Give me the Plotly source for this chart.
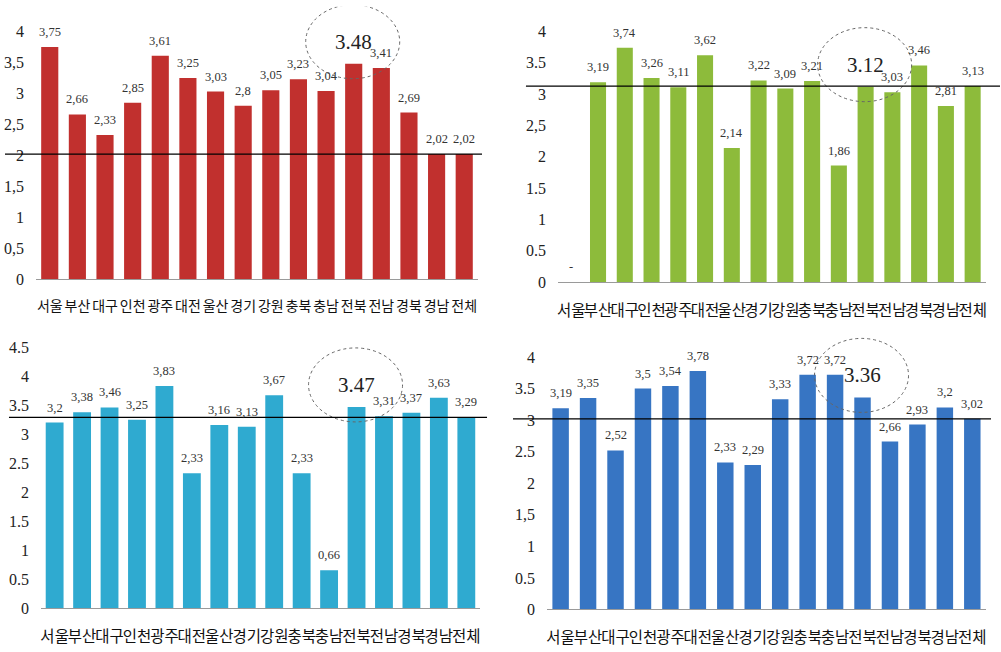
import plotly.graph_objects as go

# ---------------- data ----------------
regions = ["서울", "부산", "대구", "인천", "광주", "대전", "울산", "경기",
           "강원", "충북", "충남", "전북", "전남", "경북", "경남", "전체"]

red_values = [3.75, 2.66, 2.33, 2.85, 3.61, 3.25, 3.03, 2.8,
              3.05, 3.23, 3.04, 3.48, 3.41, 2.69, 2.02, 2.02]
green_values = [None, 3.19, 3.74, 3.26, 3.11, 3.62, 2.14, 3.22,
                3.09, 3.21, 1.86, 3.12, 3.03, 3.46, 2.81, 3.13]
cyan_values = [3.2, 3.38, 3.46, 3.25, 3.83, 2.33, 3.16, 3.13,
               3.67, 2.33, 0.66, 3.47, 3.31, 3.37, 3.63, 3.29]
blue_values = [3.19, 3.35, 2.52, 3.5, 3.54, 3.78, 2.33, 2.29,
               3.33, 3.72, 3.72, 3.36, 2.66, 2.93, 3.2, 3.02]

ytick_vals_4 = [0, 0.5, 1, 1.5, 2, 2.5, 3, 3.5, 4]
ytick_vals_45 = [0, 0.5, 1, 1.5, 2, 2.5, 3, 3.5, 4, 4.5]
red_yticks = ["0", "0,5", "1", "1,5", "2", "2,5", "3", "3,5", "4"]
green_yticks = ["0", "0.5", "1", "1.5", "2", "2,5", "3", "3.5", "4"]
cyan_yticks = ["0", "0.5", "1", "1.5", "2", "2.5", "3", "3.5", "4", "4.5"]
blue_yticks = ["0", "0.5", "1", "1,5", "2", "2.5", "3", "3.5", "4"]

highlight_region = "전북"
total_region = "전체"

# ---------------- layout constants ----------------
W, H = 1001, 652
panels = [
    dict(values=red_values, color="#c1302e", yvals=ytick_vals_4, ytext=red_yticks,
         left=35, right=478, base=283, unit=62.75, ymax=4.4,
         line_x=(4, 482), xfont=14, width=0.62),
    dict(values=green_values, color="#8dbb3b", yvals=ytick_vals_4, ytext=green_yticks,
         left=558, right=987, base=286, unit=63.5, ymax=4.4,
         line_x=(526, 1001), xfont=15.5, width=0.6),
    dict(values=cyan_values, color="#2faad0", yvals=ytick_vals_45, ytext=cyan_yticks,
         left=40, right=480, base=617, unit=58.9, ymax=5.0,
         line_x=(8, 487), xfont=15.5, width=0.65),
    dict(values=blue_values, color="#3775c3", yvals=ytick_vals_4, ytext=blue_yticks,
         left=547, right=987, base=618, unit=64.0, ymax=4.4,
         line_x=(513, 992), xfont=15.5, width=0.6),
]

fig = go.Figure()
annotations = []
shapes = []
idx = list(range(len(regions)))
hi = regions.index(highlight_region)
tot = regions.index(total_region)

for k, p in enumerate(panels, start=1):
    sfx = "" if k == 1 else str(k)
    xa, ya = "x" + sfx, "y" + sfx
    vals = p["values"]
    fig.add_trace(go.Bar(
        x=idx, y=[v if v is not None else 0 for v in vals],
        marker=dict(color=p["color"], line=dict(width=0)),
        width=p["width"], xaxis=xa, yaxis=ya, showlegend=False, hoverinfo="skip"))

    top_px = p["base"] - p["ymax"] * p["unit"]
    fig.layout["xaxis" + sfx] = dict(
        domain=[p["left"] / W, p["right"] / W], anchor=ya,
        range=[-0.5, len(regions) - 0.5], tickmode="array", tickvals=idx,
        ticktext=regions, tickangle=0, showgrid=False, zeroline=False,
        showline=True, linecolor="#9a9a9a", linewidth=1, ticks="",
        ticklabelstandoff=14,
        tickfont=dict(family="Noto Sans CJK KR", size=p["xfont"], color="#111"))
    fig.layout["yaxis" + sfx] = dict(
        domain=[1 - p["base"] / H, 1 - top_px / H], anchor=xa,
        range=[0, p["ymax"]], tickmode="array", tickvals=p["yvals"],
        ticktext=p["ytext"], showgrid=False, zeroline=False, showline=False,
        ticks="", ticklabelstandoff=11,
        tickfont=dict(family="Liberation Serif", size=16, color="#222"))

    # data labels
    for i, v in enumerate(vals):
        if i == hi:
            annotations.append(dict(
                x=i, y=v, xref=xa, yref=ya, text=f"{v:.2f}", showarrow=False,
                yanchor="middle", yshift=22,
                font=dict(family="Liberation Serif", size=21, color="#222")))
        else:
            txt = "-" if v is None else f"{v:g}".replace(".", ",")
            annotations.append(dict(
                x=i, y=v if v is not None else 0, xref=xa, yref=ya, text=txt,
                showarrow=False, yanchor="middle", yshift=15,
                font=dict(family="Liberation Serif", size=12.5, color="#333")))

    # dotted ellipse around highlighted label
    hv = vals[hi]
    shapes.append(dict(
        type="circle", xref=xa, yref=ya, xsizemode="pixel", ysizemode="pixel",
        xanchor=hi, yanchor=hv, x0=-48, x1=46, y0=-15, y1=59,
        line=dict(color="#666", width=1, dash="dot"), layer="above"))

    # reference line at total value
    tv = vals[tot]
    shapes.append(dict(
        type="line", xref="paper", yref=ya,
        x0=p["line_x"][0] / W, x1=p["line_x"][1] / W, y0=tv, y1=tv,
        line=dict(color="#000", width=1.3), layer="above"))

fig.update_layout(
    width=W, height=H, margin=dict(l=0, r=0, t=0, b=0),
    paper_bgcolor="white", plot_bgcolor="white",
    annotations=annotations, shapes=shapes, showlegend=False)

fig.write_html("out.html")
